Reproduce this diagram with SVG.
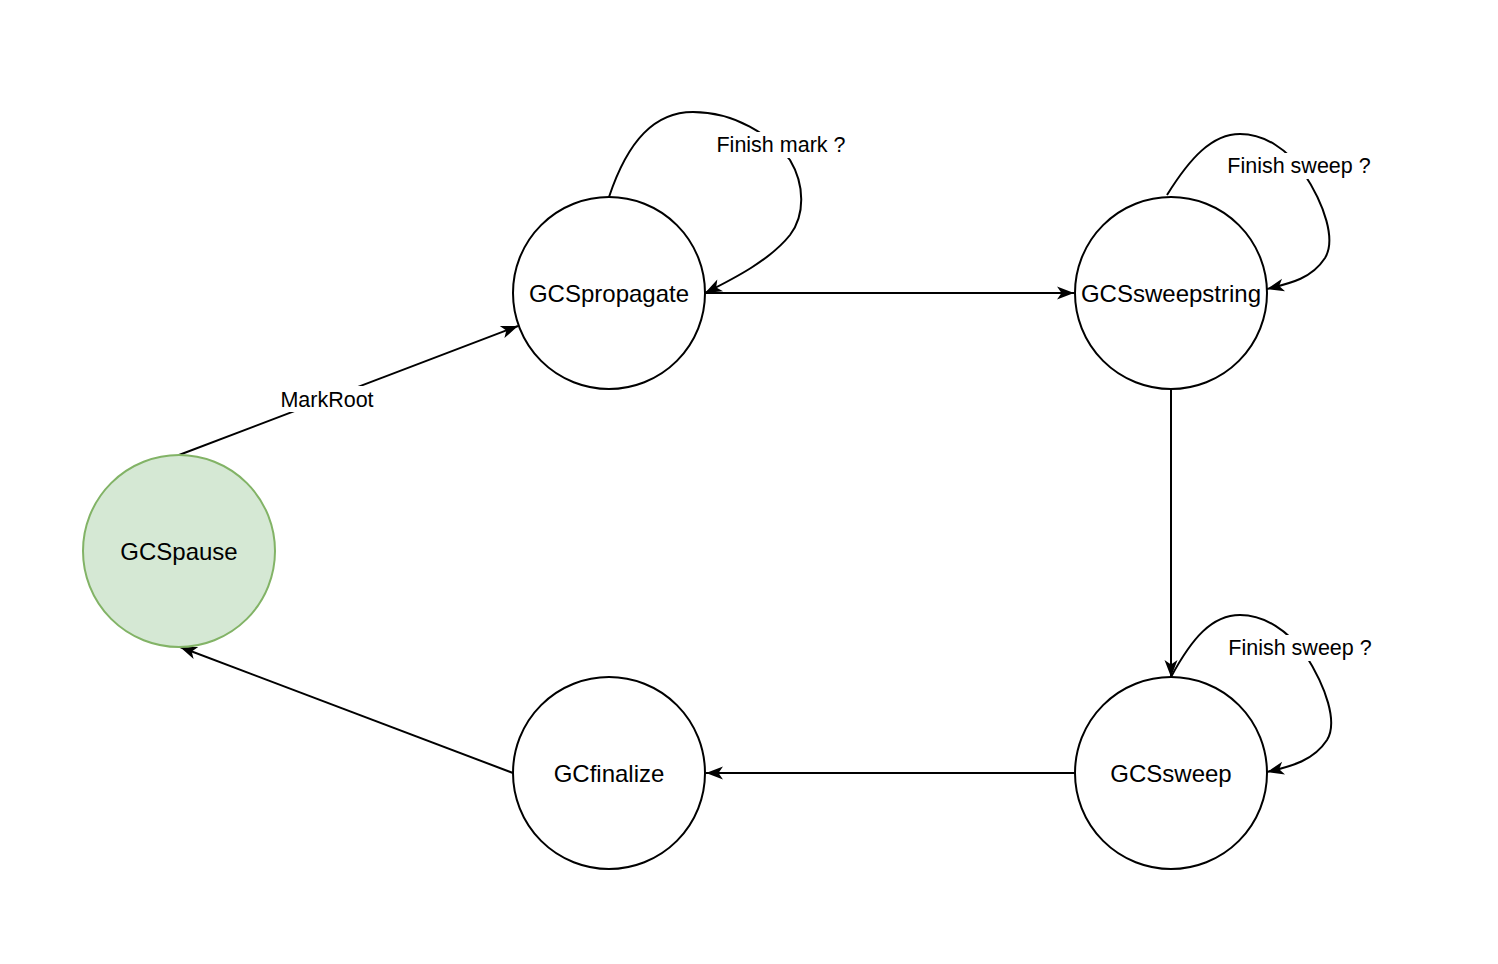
<svg xmlns="http://www.w3.org/2000/svg" width="1498" height="964" viewBox="0 0 1498 964">
<defs>
<marker id="arr" markerUnits="userSpaceOnUse" markerWidth="20" markerHeight="14" refX="17" refY="6.5" orient="auto" overflow="visible">
<path d="M0,0 L17,6.5 L0,13 L4.5,6.5 Z" fill="#000"/>
</marker>
<style>
.node{fill:#fff;stroke:#000;stroke-width:2}
.start{fill:#d5e8d4;stroke:#82b366;stroke-width:2}
.nt{font-family:"Liberation Sans",Arial,sans-serif;font-size:24px;text-anchor:middle;fill:#000}
.edge{fill:none;stroke:#000;stroke-width:2}
.lbl{font-family:"Liberation Sans",Arial,sans-serif;font-size:21.5px;text-anchor:middle;fill:#000}
.lbg{fill:#fff}
</style>
</defs>
<rect width="1498" height="964" fill="#fff"/>
<g id="connectors">
<path class="edge" d="M179,455 L518,326" marker-end="url(#arr)"/>
<path class="edge" d="M706,293 L1074,293" marker-end="url(#arr)"/>
<path class="edge" d="M1171,389 L1171,677" marker-end="url(#arr)"/>
<path class="edge" d="M1075,773 L706,773" marker-end="url(#arr)"/>
<path class="edge" d="M513,773 L180,647" marker-end="url(#arr)"/>
<path class="edge" d="M609,197 C628,140 655,112 693,112 C735,112 770,135 790,160 C805,185 805,215 790,235 C770,260 735,278 705,293" marker-end="url(#arr)"/>
<path class="edge" d="M1167,195 C1190,158 1212,134 1240,134 C1265,134 1288,150 1303,172 C1325,205 1336,240 1325,258 C1312,278 1292,283 1267,289" marker-end="url(#arr)"/>
<path class="edge" d="M1171,677 C1192,638 1212,615 1240,615 C1265,615 1288,631 1305,654 C1326,687 1338,722 1327,740 C1314,760 1293,766 1267,772" marker-end="url(#arr)"/>
<rect class="lbg" x="278" y="386" width="98" height="26"/>
<text class="lbl" x="327" y="407">MarkRoot</text>
<rect class="lbg" x="713" y="132" width="136" height="26"/>
<text class="lbl" x="781" y="152">Finish mark ?</text>
<rect class="lbg" x="1224" y="153" width="150" height="26"/>
<text class="lbl" x="1299" y="173">Finish sweep ?</text>
<rect class="lbg" x="1225" y="635" width="150" height="26"/>
<text class="lbl" x="1300" y="655">Finish sweep ?</text>
</g>
<g id="GCSpause">
<circle class="start" cx="179" cy="551" r="96"/>
<text class="nt" x="179" y="560">GCSpause</text>
</g>
<g id="GCSpropagate">
<circle class="node" cx="609" cy="293" r="96"/>
<text class="nt" x="609" y="302">GCSpropagate</text>
</g>
<g id="GCSsweepstring">
<circle class="node" cx="1171" cy="293" r="96"/>
<text class="nt" x="1171" y="302">GCSsweepstring</text>
</g>
<g id="GCSsweep">
<circle class="node" cx="1171" cy="773" r="96"/>
<text class="nt" x="1171" y="782">GCSsweep</text>
</g>
<g id="GCfinalize">
<circle class="node" cx="609" cy="773" r="96"/>
<text class="nt" x="609" y="782">GCfinalize</text>
</g>
</svg>
